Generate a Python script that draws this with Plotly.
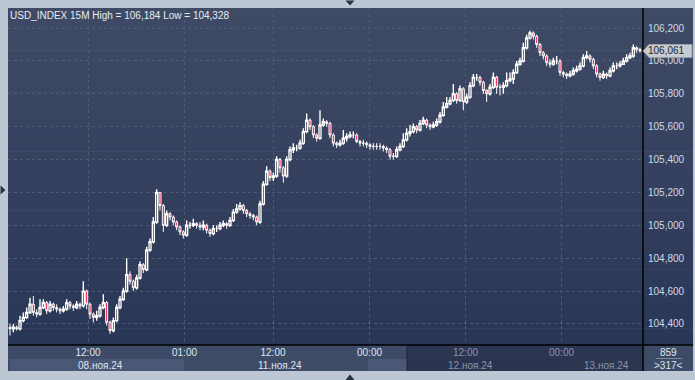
import plotly.graph_objects as go

# ---------------- data ----------------
first_open = 104.38
closes = [
    104.37, 104.38, 104.37, 104.42, 104.44, 104.47, 104.52, 104.47, 104.46, 104.50,
    104.53, 104.48, 104.52, 104.50, 104.49, 104.48, 104.49, 104.53, 104.51, 104.50,
    104.52, 104.51, 104.60, 104.52, 104.46, 104.44, 104.45, 104.50, 104.53, 104.41,
    104.36, 104.42, 104.50, 104.55, 104.60, 104.70, 104.66, 104.62, 104.68, 104.76,
    104.73, 104.85, 104.90, 105.02, 105.20, 105.12, 105.00, 105.07, 105.05, 105.02,
    104.99, 104.96, 104.94, 105.00, 105.00, 105.01, 105.00, 104.99, 105.00, 104.97,
    104.95, 104.98, 104.98, 105.00, 105.01, 105.00, 105.03, 105.08, 105.10, 105.12,
    105.09, 105.07, 105.06, 105.05, 105.02, 105.13, 105.25, 105.33, 105.29, 105.30,
    105.40, 105.35, 105.30, 105.40, 105.46, 105.47, 105.47, 105.50, 105.57, 105.64,
    105.60, 105.55, 105.53, 105.61, 105.63, 105.62, 105.55, 105.50, 105.49, 105.50,
    105.53, 105.54, 105.55, 105.55, 105.51, 105.50, 105.50, 105.49, 105.48, 105.48,
    105.48, 105.48, 105.47, 105.46, 105.42, 105.42, 105.46, 105.48, 105.52, 105.56,
    105.57, 105.60, 105.58, 105.62, 105.64, 105.61, 105.60, 105.61, 105.63, 105.67,
    105.72, 105.74, 105.76, 105.80, 105.76, 105.83, 105.75, 105.78, 105.85, 105.90,
    105.90, 105.87, 105.82, 105.80, 105.84, 105.90, 105.84, 105.84, 105.85, 105.88,
    105.89, 105.93, 105.98, 106.00, 106.08, 106.14, 106.17, 106.15, 106.10, 106.05,
    106.03, 105.99, 105.98, 106.00, 106.00, 105.93, 105.92, 105.91, 105.92, 105.94,
    105.95, 105.97, 106.02, 106.03, 106.01, 105.97, 105.92, 105.90, 105.92, 105.91,
    105.94, 105.97, 105.97, 105.98, 106.00, 106.02, 106.03, 106.08, 106.07, 106.061,
]
highs = [
    104.40, 104.40, 104.39, 104.45, 104.47, 104.50, 104.56, 104.57, 104.49, 104.55,
    104.55, 104.54, 104.54, 104.53, 104.52, 104.50, 104.51, 104.55, 104.54, 104.52,
    104.54, 104.53, 104.66, 104.61, 104.53, 104.47, 104.48, 104.52, 104.58, 104.54,
    104.42, 104.44, 104.52, 104.57, 104.62, 104.80, 104.72, 104.67, 104.70, 104.78,
    104.77, 104.87, 104.92, 105.05, 105.22, 105.19, 105.13, 105.09, 105.08, 105.06,
    105.03, 105.00, 104.97, 105.03, 105.02, 105.04, 105.02, 105.02, 105.03, 105.01,
    104.98, 105.00, 105.00, 105.02, 105.03, 105.02, 105.05, 105.10, 105.13, 105.14,
    105.13, 105.10, 105.08, 105.07, 105.06, 105.15, 105.27, 105.36, 105.34, 105.32,
    105.42, 105.41, 105.36, 105.42, 105.48, 105.50, 105.49, 105.52, 105.59, 105.68,
    105.65, 105.61, 105.56, 105.70, 105.65, 105.64, 105.63, 105.56, 105.51, 105.52,
    105.58, 105.56, 105.57, 105.57, 105.56, 105.52, 105.52, 105.51, 105.50, 105.50,
    105.50, 105.50, 105.49, 105.48, 105.47, 105.44, 105.48, 105.50, 105.56, 105.59,
    105.61, 105.62, 105.61, 105.64, 105.66, 105.65, 105.62, 105.63, 105.65, 105.69,
    105.75, 105.78, 105.78, 105.86, 105.81, 105.85, 105.84, 105.80, 105.87, 105.92,
    105.92, 105.91, 105.88, 105.83, 105.86, 105.93, 105.91, 105.86, 105.87, 105.93,
    105.93, 105.95, 106.00, 106.02, 106.11, 106.16, 106.184, 106.18, 106.16, 106.11,
    106.06, 106.04, 106.01, 106.02, 106.03, 106.01, 105.94, 105.93, 105.94, 105.96,
    105.97, 105.99, 106.04, 106.06, 106.04, 106.02, 105.98, 105.93, 105.94, 105.93,
    105.96, 105.99, 105.99, 106.00, 106.02, 106.04, 106.05, 106.10, 106.09, 106.08,
]
lows = [
    104.33, 104.35, 104.36, 104.36, 104.41, 104.43, 104.46, 104.45, 104.44, 104.45,
    104.49, 104.46, 104.47, 104.48, 104.47, 104.46, 104.47, 104.48, 104.49, 104.48,
    104.49, 104.49, 104.50, 104.49, 104.43, 104.41, 104.42, 104.44, 104.49, 104.39,
    104.34, 104.35, 104.41, 104.49, 104.54, 104.59, 104.64, 104.60, 104.61, 104.67,
    104.71, 104.72, 104.84, 104.89, 105.01, 105.09, 104.96, 104.99, 105.03, 105.00,
    104.97, 104.94, 104.92, 104.93, 104.98, 104.99, 104.98, 104.97, 104.97, 104.95,
    104.93, 104.94, 104.96, 104.97, 104.99, 104.98, 104.99, 105.02, 105.07, 105.09,
    105.07, 105.05, 105.04, 105.03, 105.00, 105.01, 105.12, 105.24, 105.27, 105.27,
    105.29, 105.32, 105.26, 105.29, 105.39, 105.44, 105.45, 105.46, 105.49, 105.56,
    105.58, 105.53, 105.51, 105.52, 105.60, 105.60, 105.53, 105.48, 105.47, 105.48,
    105.49, 105.51, 105.53, 105.53, 105.50, 105.48, 105.48, 105.47, 105.46, 105.46,
    105.46, 105.46, 105.45, 105.44, 105.40, 105.40, 105.41, 105.45, 105.47, 105.51,
    105.54, 105.56, 105.56, 105.57, 105.61, 105.59, 105.58, 105.59, 105.60, 105.62,
    105.66, 105.71, 105.73, 105.75, 105.74, 105.75, 105.70, 105.74, 105.77, 105.84,
    105.88, 105.85, 105.80, 105.75, 105.79, 105.83, 105.80, 105.79, 105.80, 105.84,
    105.87, 105.86, 105.92, 105.97, 105.99, 106.07, 106.13, 106.13, 106.08, 106.03,
    106.01, 105.97, 105.96, 105.97, 105.98, 105.91, 105.90, 105.89, 105.90, 105.91,
    105.93, 105.94, 105.96, 106.01, 105.99, 105.95, 105.90, 105.88, 105.89, 105.89,
    105.90, 105.93, 105.95, 105.96, 105.98, 105.99, 106.01, 106.02, 106.05, 106.05,
]
opens = [first_open] + closes[:-1]

price_ticks = [104.4, 104.6, 104.8, 105.0, 105.2, 105.4, 105.6, 105.8, 106.0, 106.2]
time_tick_pos = [23.4, 52.35, 78.9, 107.85, 136.65, 165.45]
time_tick_text = ["12:00", "01:00", "12:00", "00:00", "12:00", "00:00"]
time_tick_dim = [False, False, False, False, True, True]
date_labels = ["08.ноя.24", "11.ноя.24", "12.ноя.24", "13.ноя.24"]
date_label_px = [77, 257, 447, 583]
date_label_dim = [False, False, True, True]
title_text = "USD_INDEX 15M High = 106,184 Low = 104,328"
last_price_text = "106,061"
bars_total = "859"
bars_visible = ">317<"

# ---------------- geometry helpers ----------------
W, H = 695, 380
L, R, T, B = 8, 643, 8, 345  # plot area in pixels


def xp(px):
    return (px - L) / (R - L)


def yp(py):
    return (B - py) / (B - T)


FONT = "Liberation Sans, Arial, sans-serif"
FS = 10
BRIGHT = "#dfe6f0"
DIM = "#8a94a9"
GRID = "#4e5b76"

highs = [max(h, o, c) for h, o, c in zip(highs, opens, closes)]
lows = [min(lo, o, c) for lo, o, c in zip(lows, opens, closes)]
xs = list(range(len(closes)))

fig = go.Figure()
fig.add_trace(go.Candlestick(
    x=xs, open=opens, high=highs, low=lows, close=closes,
    increasing=dict(line=dict(color="#ffffff", width=1.4), fillcolor="#1a1a1a"),
    decreasing=dict(line=dict(color="#ffffff", width=1.0), fillcolor="#ee1148"),
    whiskerwidth=0, hoverinfo="skip", showlegend=False,
))

shapes = []
# gradient panel background (plot + right axis strip)
n_bands = 40
top_c = (63, 75, 101)
bot_c = (42, 54, 86)
for i in range(n_bands):
    t = i / (n_bands - 1)
    col = tuple(round(top_c[j] + (bot_c[j] - top_c[j]) * t) for j in range(3))
    y0 = T + (B - T) * i / n_bands
    y1 = T + (B - T) * (i + 1) / n_bands + 0.6
    shapes.append(dict(type="rect", xref="paper", yref="paper", layer="below",
                       x0=xp(L), x1=xp(693), y0=yp(y1), y1=yp(y0),
                       fillcolor="rgb(%d,%d,%d)" % col, line=dict(width=0)))


def rect(x0, y0, x1, y1, color, layer="below"):
    return dict(type="rect", xref="paper", yref="paper", layer=layer,
                x0=xp(x0), x1=xp(x1), y0=yp(y1), y1=yp(y0),
                fillcolor=color, line=dict(width=0))


# bottom strip
shapes.append(rect(L, B, 693, 371, "#3e4b67"))
shapes.append(rect(10, 359, 184, 371, "#4a5775"))
shapes.append(rect(368, 359, 407, 371, "#4a5775"))
shapes.append(rect(407, B, 643, 371, "#2c3651"))
shapes.append(rect(407, 359, 560, 371, "#2a344e"))
shapes.append(dict(type="line", xref="paper", yref="paper", layer="below",
                   x0=xp(407), x1=xp(407), y0=yp(346), y1=yp(371),
                   line=dict(color="#1c2436", width=1)))
shapes.append(dict(type="line", xref="paper", yref="paper", layer="above",
                   x0=xp(656), x1=xp(682), y0=yp(358.5), y1=yp(358.5),
                   line=dict(color="#7d879c", width=1)))
# black frame lines
shapes.append(dict(type="line", xref="paper", yref="paper", layer="above",
                   x0=xp(R), x1=xp(R), y0=yp(T), y1=yp(371),
                   line=dict(color="#000000", width=1.5)))
shapes.append(dict(type="line", xref="paper", yref="paper", layer="above",
                   x0=xp(L), x1=xp(693), y0=yp(B), y1=yp(B),
                   line=dict(color="#000000", width=1.5)))


def path(points):
    return "M " + " L ".join("%f,%f" % (xp(a), yp(b)) for a, b in points) + " Z"


# last price marker box
shapes.append(dict(type="path", xref="paper", yref="paper", layer="above",
                   path=path([(643, 51), (649, 44.5), (692, 44.5), (692, 57.5), (649, 57.5)]),
                   fillcolor="#c6cbd3", line=dict(color="#9aa1ad", width=1)))
# navigation triangles on the frame
tri_col = "#2a3140"
shapes.append(dict(type="path", xref="paper", yref="paper", layer="above",
                   path=path([(345.5, 0.5), (354.5, 0.5), (350, 5.5)]),
                   fillcolor=tri_col, line=dict(width=0)))
shapes.append(dict(type="path", xref="paper", yref="paper", layer="above",
                   path=path([(345.5, 380), (354.5, 380), (350, 374.5)]),
                   fillcolor=tri_col, line=dict(width=0)))
shapes.append(dict(type="path", xref="paper", yref="paper", layer="above",
                   path=path([(0.5, 185.5), (0.5, 194.5), (5.5, 190)]),
                   fillcolor=tri_col, line=dict(width=0)))

annotations = []
annotations.append(dict(xref="paper", yref="paper", x=xp(9), y=yp(15),
                        xanchor="left", yanchor="middle", showarrow=False, borderpad=0,
                        text=title_text, font=dict(family=FONT, size=FS, color="#e8ecf2")))
for txt, px, dim in zip(date_labels, date_label_px, date_label_dim):
    annotations.append(dict(xref="paper", yref="paper", x=xp(px), y=yp(365),
                            xanchor="left", yanchor="middle", showarrow=False, borderpad=0,
                            text=txt, font=dict(family=FONT, size=FS, color=DIM if dim else BRIGHT)))
annotations.append(dict(xref="paper", yref="paper", x=xp(668), y=yp(352),
                        xanchor="center", yanchor="middle", showarrow=False, borderpad=0,
                        text=bars_total, font=dict(family=FONT, size=FS, color=BRIGHT)))
annotations.append(dict(xref="paper", yref="paper", x=xp(668), y=yp(365),
                        xanchor="center", yanchor="middle", showarrow=False, borderpad=0,
                        text=bars_visible, font=dict(family=FONT, size=FS, color=BRIGHT)))
annotations.append(dict(xref="paper", yref="paper", x=xp(666), y=yp(51),
                        xanchor="center", yanchor="middle", showarrow=False, borderpad=0,
                        text=last_price_text, font=dict(family=FONT, size=FS, color="#1e1e1e")))

tick_text = ['<span style="color:%s">%s</span>' % (DIM if d else BRIGHT, t)
             for t, d in zip(time_tick_text, time_tick_dim)]

fig.update_layout(
    width=W, height=H,
    margin=dict(l=L, r=W - R, t=T, b=H - B, pad=0),
    paper_bgcolor="#bdc6d3",
    plot_bgcolor="rgba(0,0,0,0)",
    separators=", ",
    showlegend=False,
    boxgap=0.15,
    shapes=shapes,
    annotations=annotations,
    xaxis=dict(
        range=[-0.6, 189.9], rangeslider=dict(visible=False),
        tickmode="array", tickvals=time_tick_pos, ticktext=tick_text,
        showgrid=True, gridcolor=GRID, griddash="3px,3px", gridwidth=1,
        zeroline=False, showline=False, ticks="",
        tickfont=dict(family=FONT, size=FS, color=BRIGHT),
    ),
    yaxis=dict(
        side="right", range=[104.272, 106.322],
        tickmode="array", tickvals=price_ticks, tickformat=".3f",
        showgrid=True, gridcolor=GRID, griddash="3px,3px", gridwidth=1,
        zeroline=False, showline=False, ticks="outside", ticklen=2,
        tickcolor="rgba(0,0,0,0)",
        tickfont=dict(family=FONT, size=FS, color="#cfdaea"),
    ),
)

fig.write_html("out.html")
